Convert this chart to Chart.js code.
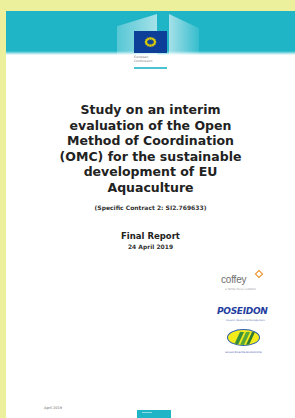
<!DOCTYPE html>
<html>
<head>
<meta charset="utf-8">
<script src="https://cdn.jsdelivr.net/npm/chart.js@4/dist/chart.umd.min.js"></script>
<style>
  html, body { margin: 0; padding: 0; }
  body { width: 295px; height: 418px; background: #ecef9c; position: relative; overflow: hidden; font-family: "DejaVu Sans", sans-serif; }
  .page { position: absolute; left: 6px; top: 11px; width: 289px; height: 407px; background: #fff; overflow: hidden; }
  .band { position: absolute; left: 0; top: 0; width: 100%; height: 44px; background: linear-gradient(#1fb5c7 0, #1fb5c7 40px, #8fdbe3 42px, #ffffff 44px); }
  .bld { position: absolute; background: linear-gradient(90deg, rgba(255,255,255,0.25), rgba(255,255,255,0.6)); }
  .bld.l { left: 111px; top: 3px; width: 40px; height: 41px; clip-path: polygon(0 30%, 100% 0, 100% 100%, 0 100%); }
  .bld.r { left: 163px; top: 3px; width: 30px; height: 41px; background: linear-gradient(90deg, rgba(255,255,255,0.6), rgba(255,255,255,0.1)); clip-path: polygon(0 0, 100% 35%, 100% 100%, 0 100%); }
  #flagWrap { position: absolute; left: 128px; top: 20px; width: 33px; height: 22px; background: #0e3f98; }
  .ec { position: absolute; left: 128px; top: 45px; font-size: 3px; line-height: 3.5px; color: #777; }
  .ecline { position: absolute; left: 128px; top: 56px; width: 33px; height: 2px; background: #4cc3d1; }
  .title { position: absolute; left: 0; top: 91px; width: 289px; text-align: center; font-weight: bold; font-size: 12.5px; line-height: 15.6px; color: #222; }
  .sub { position: absolute; left: 0; top: 193px; width: 289px; text-align: center; font-weight: bold; font-size: 6px; color: #333; }
  .final { position: absolute; left: 0; top: 220px; width: 289px; text-align: center; font-weight: bold; font-size: 8.5px; color: #222; }
  .date { position: absolute; left: 0; top: 232px; width: 289px; text-align: center; font-weight: bold; font-size: 6px; color: #333; }
  .coffey { position: absolute; left: 215px; top: 263px; font-size: 10px; color: #6e6e6e; font-family: "Liberation Sans", sans-serif; letter-spacing: -0.2px; }
  .diam { position: absolute; left: 250px; top: 260px; width: 4px; height: 4px; border: 1.5px solid #f08a1c; transform: rotate(45deg); }
  .cap { position: absolute; font-size: 2.5px; color: #999; }
  .pos { position: absolute; left: 211px; top: 295px; font-size: 9px; font-weight: bold; font-style: italic; color: #1f3ea0; letter-spacing: -0.3px; }
  .ell { position: absolute; left: 221px; top: 318px; width: 33px; height: 17px; border-radius: 50%; background: #f2ec1c; border: 1.2px solid #2a5db0; box-sizing: border-box; overflow: hidden; }
  .ell i { position: absolute; top: 2px; width: 4px; height: 13px; background: #3a8f3a; transform: skewX(-25deg); }
  .april { position: absolute; left: 38px; top: 395px; font-size: 3.5px; color: #666; }
  .foot { position: absolute; left: 131px; top: 399px; width: 34px; height: 8px; background: #1fb5c7; }
  .foot span { position: absolute; left: 5px; top: 2px; width: 10px; height: 1px; background: #8fdbe3; }
</style>
</head>
<body>
<div class="page">
  <div class="band"></div>
  <div class="bld l"></div>
  <div class="bld r"></div>
  <div id="flagWrap"><canvas id="flag" width="33" height="22"></canvas></div>
  <div class="ec">European<br>Commission</div>
  <div class="ecline"></div>
  <div class="title" id="title"></div>
  <div class="sub" id="sub"></div>
  <div class="final" id="final"></div>
  <div class="date" id="date"></div>
  <div class="coffey">coffey</div>
  <div class="diam"></div>
  <div class="cap" style="left:219px;top:277px;">A TETRA TECH COMPANY</div>
  <div class="pos">POSEIDON</div>
  <div class="cap" style="left:220px;top:308px;color:#6a7fc0;">Aquatic Resource Management</div>
  <div class="ell"><i style="left:9px"></i><i style="left:15px;background:#5aa83a"></i><i style="left:21px;width:3px;background:#2f7a34"></i></div>
  <div class="cap" style="left:219px;top:340px;color:#3a57b0;">Istituto Ricerche Economiche</div>
  <div class="april">April 2019</div>
  <div class="foot"><span></span></div>
</div>
<script>
// text on the cover
const titleLines = [
  "Study on an interim",
  "evaluation of the Open",
  "Method of Coordination",
  "(OMC) for the sustainable",
  "development of EU",
  "Aquaculture"
];
const subtitle = "(Specific Contract 2: SI2.769633)";
const reportLabel = "Final Report";
const reportDate = "24 April 2019";

// EU flag: 12 stars on a ring (x, y in flag units, centre 0,0)
const starX = [0, 3.2, 5.5, 6.3, 5.5, 3.2, 0, -3.2, -5.5, -6.3, -5.5, -3.2];
const starY = [6.3, 5.5, 3.2, 0, -3.2, -5.5, -6.3, -5.5, -3.2, 0, 3.2, 5.5];

document.getElementById("title").innerHTML = titleLines.join("<br>");
document.getElementById("sub").textContent = subtitle;
document.getElementById("final").textContent = reportLabel;
document.getElementById("date").textContent = reportDate;

new Chart(document.getElementById("flag").getContext("2d"), {
  type: "scatter",
  data: {
    datasets: [{
      data: starX.map((x, i) => ({ x, y: starY[i] })),
      pointStyle: "star",
      pointRadius: 1.4,
      borderWidth: 0.8,
      borderColor: "#e6d200",
      backgroundColor: "#e6d200"
    }]
  },
  options: {
    responsive: false,
    animation: false,
    events: [],
    layout: { padding: 0 },
    plugins: { legend: { display: false }, tooltip: { enabled: false } },
    scales: {
      x: { display: false, min: -16.5, max: 16.5 },
      y: { display: false, min: -11, max: 11 }
    }
  }
});
</script>
</body>
</html>
